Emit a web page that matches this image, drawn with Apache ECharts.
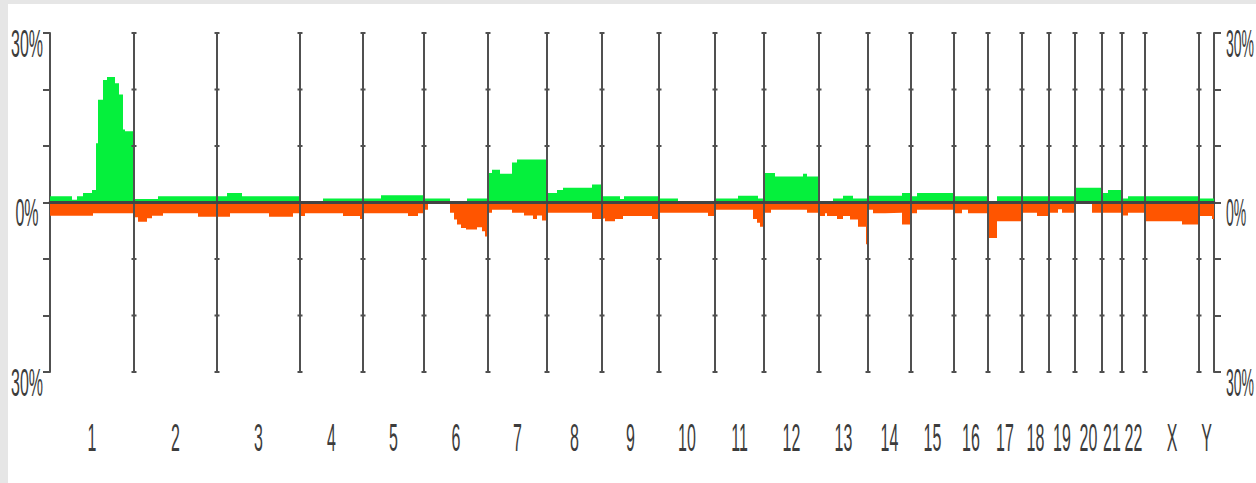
<!DOCTYPE html>
<html>
<head>
<meta charset="utf-8">
<script src="https://cdn.jsdelivr.net/npm/echarts@6/dist/echarts.min.js"></script>
<style>
  html, body { margin: 0; padding: 0; background: #e6e6e6; width: 1256px; height: 483px; overflow: hidden; }
  #c { position: absolute; left: 8px; top: 4px; width: 1248px; height: 479px; background: #ffffff; }
</style>
</head>
<body>
<div id="c"></div>
<script>
// ---- data (genome position in plot units, values in %) ----
const chromNames = ['1','2','3','4','5','6','7','8','9','10','11','12','13','14','15','16','17','18','19','20','21','22','X','Y'];
const chromBounds = [0,84,167,250,313,374,438,497,552,609,665,714,769,818,861,904,938,972,999,1025,1052,1072,1095,1149,1164];

const yTickValues = [30,20,10,0,-10,-20,-30];
const yLabelValues = [30,0,-30];

// gains: segment start positions and % of cases
const gainPos = [0,22,27,33,42,46,48,53,57,65,69,73,75,
  84,108, 167,177,192, 250,273, 313,331, 374,400,417,
  438,442,450,462,467, 497,507,513,542, 552,570,574, 609,628,
  665,688,708, 714,725,753,757, 769,783,793,803, 818,852, 861,867,
  904, 938,947, 972, 999, 1025, 1052,1058, 1072,1078, 1095, 1149];
const gainPct = [1.1,0.5,1.1,1.7,2.2,10.5,18.2,21.7,22.2,21.1,19.1,12.9,12.6,
  0.6,1.1, 1.1,1.7,1.1, 0,0.7, 0.7,1.3, 0.7,0,0.7,
  5.2,5.8,5.1,7.1,7.6, 1.7,2.2,2.6,3.2, 1.1,0.6,1.1, 0.7,0,
  0.7,1.2,0.7, 5.2,4.6,5.1,4.6, 0,0.7,1.2,0.7, 1.2,1.7, 1.1,1.7,
  1.1, 0,1.1, 1.1, 1.1, 2.6, 1.7,2.2, 0.7,1.1, 1.1, 0.7];

// losses: segment start positions and % of cases
const lossPos = [0,43, 84,88,97,102,113,148, 167,180,219,243, 250,255,293,310, 313,358,368,
  374,378,400,404,407,411,416,427,432,435, 438,442,462,474,483,487,492, 497,542,
  552,555,565,573,602, 609,658, 665,703,707,710, 714,721,757,
  769,775,777,787,793,800,808,816, 818,823,835,852, 861,867, 904,912,918,
  938,947, 972,987, 999,1008,1012, 1025,1042, 1052, 1072,1078, 1095,1132, 1149,1162];
const lossPct = [2.35,1.9, 2.6,3.4,2.8,2.35,1.9,2.5, 2.5,1.9,2.5,1.9, 2.4,1.9,2.4,2.9, 1.9,2.4,1.9,
  1.3,0,1.8,3.0,3.9,4.5,4.8,4.4,5.1,6.0, 1.8,1.3,1.8,2.3,2.9,2.3,3.2, 1.8,2.9,
  2.8,3.3,2.9,2.4,2.9, 1.8,2.4, 1.3,2.9,3.6,4.3, 1.8,1.3,1.8,
  2.4,1.9,2.4,2.9,2.4,3.0,4.3,7.4, 1.3,1.9,1.8,3.9, 1.9,1.3, 1.9,1.3,1.9,
  6.3,3.3, 1.8,2.4, 1.8,1.2,1.8, 0,1.8, 1.8, 2.3,1.8, 3.3,3.9, 2.4,2.9];

// ---- build ----
const xMax = chromBounds[chromBounds.length - 1];
const gainData = gainPos.map((x, i) => [x, gainPct[i]]).concat([[xMax, gainPct[gainPct.length - 1]]]);
const lossData = lossPos.map((x, i) => [x, -lossPct[i]]).concat([[xMax, -lossPct[lossPct.length - 1]]]);
const centers = chromNames.map((n, i) => (chromBounds[i] + chromBounds[i + 1]) / 2);
const innerBounds = chromBounds.slice(1, -1);

const LINE = '#505050';
const TEXT = '#3c3c3c';
const FONT = '16px "Liberation Sans", Arial, sans-serif';
const FONT_R = '14px "Liberation Sans", Arial, sans-serif';
const STRETCH = 2.45;

const chart = echarts.init(document.getElementById('c'), null, { renderer: 'svg' });
chart.setOption({
  animation: false,
  backgroundColor: '#ffffff',
  grid: { left: 42, right: 42, top: 29, bottom: 111 },
  xAxis: {
    type: 'value', min: 0, max: xMax, z: 5,
    axisLine: { show: true, onZero: true, lineStyle: { color: '#444444', width: 3 } },
    axisTick: { show: false }, axisLabel: { show: false }, splitLine: { show: false }
  },
  yAxis: [
    { type: 'value', position: 'left', min: -30, max: 30, interval: 10,
      axisLine: { show: true, lineStyle: { color: LINE, width: 2 } },
      axisTick: { show: true, length: 7, lineStyle: { color: LINE, width: 2 } },
      axisLabel: { show: false }, splitLine: { show: false } },
    { type: 'value', position: 'right', min: -30, max: 30, interval: 10,
      axisLine: { show: true, lineStyle: { color: LINE, width: 2 } },
      axisTick: { show: true, length: 7, lineStyle: { color: LINE, width: 2 } },
      axisLabel: { show: false }, splitLine: { show: false } }
  ],
  series: [
    { name: 'gain', type: 'line', step: 'end', data: gainData, showSymbol: false, z: 2,
      lineStyle: { width: 0 }, areaStyle: { color: '#05f03c', opacity: 1 } },
    { name: 'loss', type: 'line', step: 'end', data: lossData, showSymbol: false, z: 2,
      lineStyle: { width: 0 }, areaStyle: { color: '#ff5500', opacity: 1 } },
    { name: 'bounds', type: 'custom', z: 4, silent: true,
      data: innerBounds.map(b => [b, 0]),
      renderItem: function (params, api) {
        const b = api.value(0);
        const top = api.coord([b, 30]);
        const bot = api.coord([b, -30]);
        const children = [{ type: 'line', shape: { x1: top[0], y1: top[1], x2: bot[0], y2: bot[1] },
          style: { stroke: LINE, lineWidth: 2 } }];
        yTickValues.forEach(v => {
          const p = api.coord([b, v]);
          children.push({ type: 'line', shape: { x1: p[0] - 2.5, y1: p[1], x2: p[0] + 2.5, y2: p[1] },
            style: { stroke: LINE, lineWidth: 2 } });
        });
        return { type: 'group', children: children };
      } },
    { name: 'chromLabels', type: 'custom', z: 4, silent: true, clip: false,
      data: centers.map(c => [c, -30]),
      renderItem: function (params, api) {
        const p = api.coord([api.value(0), api.value(1)]);
        return { type: 'text', x: p[0], y: p[1] + 65, scaleY: STRETCH,
          style: { text: chromNames[params.dataIndex], font: FONT, fill: TEXT, align: 'center', verticalAlign: 'middle' } };
      } },
    { name: 'yLabelsLeft', type: 'custom', z: 4, silent: true, clip: false,
      data: yLabelValues.map(v => [0, v]),
      renderItem: function (params, api) {
        const p = api.coord([api.value(0), api.value(1)]);
        return { type: 'text', x: p[0] - 23, y: p[1] + 10, scaleY: STRETCH,
          style: { text: Math.abs(api.value(1)) + '%', font: FONT, fill: TEXT, align: 'center', verticalAlign: 'middle' } };
      } },
    { name: 'yLabelsRight', type: 'custom', z: 4, silent: true, clip: false,
      data: yLabelValues.map(v => [xMax, v]),
      renderItem: function (params, api) {
        const p = api.coord([api.value(0), api.value(1)]);
        return { type: 'text', x: p[0] + 12, y: p[1] + 10, scaleY: STRETCH * 16 / 14,
          style: { text: Math.abs(api.value(1)) + '%', font: FONT_R, fill: TEXT, align: 'left', verticalAlign: 'middle' } };
      } }
  ]
});
</script>
</body>
</html>
